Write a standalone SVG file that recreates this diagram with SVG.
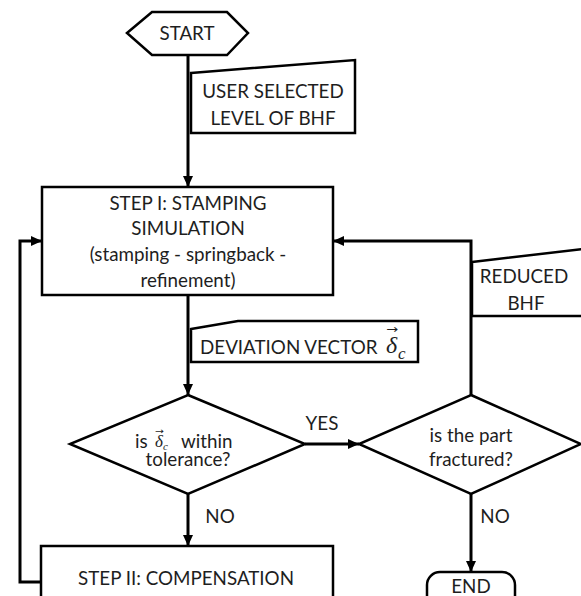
<svg xmlns="http://www.w3.org/2000/svg" width="581" height="596" viewBox="0 0 581 596">
<defs>
<marker id="ah" markerUnits="userSpaceOnUse" markerWidth="11" markerHeight="10" refX="11" refY="5" orient="auto">
<path d="M0,0 L11,5 L0,10 z" fill="#000"/>
</marker>
<style>
.sh{fill:#fff;stroke:#000;stroke-width:2.5;stroke-linejoin:miter}
.t{font-family:Lato,"Open Sans","Liberation Sans",sans-serif;font-size:18.8px;fill:#1e1e1e;text-anchor:middle}
.tl{font-family:Lato,"Open Sans","Liberation Sans",sans-serif;font-size:18.8px;fill:#1e1e1e}
.c{fill:none;stroke:#000;stroke-width:3}
.ca{fill:none;stroke:#000;stroke-width:3;marker-end:url(#ah)}
.gr{font-family:"Liberation Serif",serif;font-style:italic;fill:#1e1e1e}
.ar{font-family:"DejaVu Sans",sans-serif;fill:#1e1e1e}
</style>
</defs>
<rect width="581" height="596" fill="#fff"/>
<g id="connectors">
<path class="ca" d="M188,55 V187"/>
<path class="ca" d="M188,295 V395"/>
<path class="ca" d="M305,444 H359"/>
<path class="ca" d="M188,494 V546"/>
<path class="ca" d="M471,494 V572"/>
<path class="ca" d="M471,395 V241 H333"/>
<path class="ca" d="M41,582 H20 V241 H42"/>
</g>
<g id="start">
<polygon class="sh" points="127,33 152,12 227,12 248,33 227,55 152,55"/>
<text class="t" x="187" y="40">START</text>
</g>
<g id="user-bhf">
<polygon class="sh" points="191,73 355,60 355,133 191,133"/>
<text class="t" x="273" y="98">USER SELECTED</text>
<text class="t" x="273" y="125">LEVEL OF BHF</text>
</g>
<g id="step1">
<rect class="sh" x="42" y="187" width="291" height="108"/>
<text class="t" x="188" y="210">STEP I: STAMPING</text>
<text class="t" x="188" y="235">SIMULATION</text>
<text class="t" x="188" y="261">(stamping - springback -</text>
<text class="t" x="188" y="287">refinement)</text>
</g>
<g id="reduced-bhf">
<polygon class="sh" points="472,262 583,249 583,316 472,316"/>
<text class="t" x="524" y="283">REDUCED</text>
<text class="t" x="526" y="310">BHF</text>
</g>
<g id="deviation">
<polygon class="sh" points="191,329 238,321 418,321 418,362 191,362"/>
<text class="tl" x="200" y="354">DEVIATION VECTOR <tspan class="gr" x="386" y="353" font-size="24">δ</tspan><tspan class="gr" x="398" y="359" font-size="17">c</tspan></text>
<text class="ar" x="386" y="333" font-size="12" textLength="12" lengthAdjust="spacingAndGlyphs">→</text>
</g>
<g id="decision1">
<polygon class="sh" points="188,395 305,444 188,494 70,444"/>
<text class="tl" x="135" y="448">is <tspan class="gr" x="155" y="447" font-size="17">δ</tspan><tspan class="gr" x="163" y="450" font-size="11">c</tspan><tspan x="181" y="448">within</tspan></text>
<text class="ar" x="155" y="434" font-size="9" textLength="9" lengthAdjust="spacingAndGlyphs">→</text>
<text class="t" x="188" y="466">tolerance?</text>
</g>
<g id="decision2">
<polygon class="sh" points="471,395 581,444 471,494 359,444"/>
<text class="t" x="471" y="442">is the part</text>
<text class="t" x="471" y="466">fractured?</text>
</g>
<g id="step2">
<rect class="sh" x="41" y="546" width="292" height="70"/>
<text class="t" x="186" y="585">STEP II: COMPENSATION</text>
</g>
<g id="end">
<rect class="sh" x="427" y="572" width="88" height="40" rx="13"/>
<text class="t" x="471" y="593">END</text>
</g>
<g id="labels">
<text class="t" x="322" y="430">YES</text>
<text class="t" x="220" y="523">NO</text>
<text class="t" x="495" y="523">NO</text>
</g>
</svg>
